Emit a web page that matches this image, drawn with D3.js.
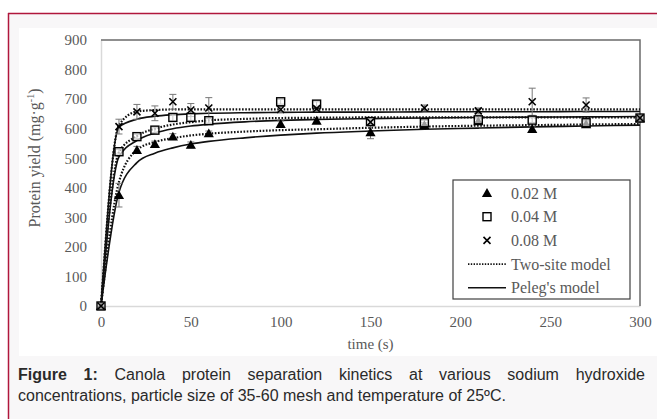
<!DOCTYPE html>
<html><head><meta charset="utf-8">
<script src="https://cdn.jsdelivr.net/npm/d3@7"></script>
<style>
body{margin:0;background:#fff;width:657px;height:419px;overflow:hidden;position:relative}
#cap{position:absolute;left:18px;top:364px;width:627px;font-family:"Liberation Sans",Arial,sans-serif;font-size:16px;line-height:21px;color:#2a2a2a;text-align:justify}
</style></head><body>
<svg id="c" width="657" height="419"></svg>
<div id="cap"><b>Figure 1:</b> Canola protein separation kinetics at various sodium hydroxide concentrations, particle size of 35-60 mesh and temperature of 25ºC.</div>
<script>
const times = [0,10,20,30,40,50,60,100,120,150,180,210,240,270,300];
const y002 = [0,375,528,548,573,545,584,616,627,588,612,625,599,615,635];
const y004 = [0,522,573,595,638,638,627,691,683,624,620,630,629,620,636];
const y008 = [0,607,657,652,691,663,670,665,668,622,670,660,691,680,636];
const e002 = [0,40,12,10,10,10,8,10,8,22,8,8,10,8,8];
const e004 = [0,8,8,8,12,10,8,8,8,10,8,8,8,8,8];
const e008 = [0,25,25,25,25,22,35,10,8,8,10,10,46,24,8];

const curveT = [0,10,20,30,40,50,60,80,100,120,150,180,210,240,270,300];
const two008 = [0,612,658,663,665,665,665,665,665,665,665,665,665,665,665,665];
const peleg008 = [0,605,632,642,647,650,652,654,655,656,656,657,657,657,658,658];
const two004 = [0,520,575,600,614,622,628,633,636,637,638,638,638,638,638,638];
const peleg004 = [0,505,560,585,600,609,615,623,628,631,634,636,638,639,640,641];
const two002 = [0,420,528,555,568,577,583,590,595,598,603,607,610,612,614,616];
const peleg002 = [0,385,485,517,535,548,557,569,578,585,592,598,602,606,609,612];

const xTicks = [0,50,100,150,200,250,300];
const yTicks = [0,100,200,300,400,500,600,700,800,900];
const legendLabels = ["0.02 M","0.04 M","0.08 M","Two-site model","Peleg's model"];

const svg = d3.select("#c");
// figure frame
svg.append("rect").attr("x",8).attr("y",13).attr("width",649).attr("height",406).attr("fill","#f8f7f8");
svg.append("rect").attr("x",19).attr("y",28).attr("width",638).attr("height",328).attr("fill","#fff");
svg.append("line").attr("x1",8).attr("x2",657).attr("y1",13.5).attr("y2",13.5).attr("stroke","#b0173c").attr("stroke-width",1.5);
svg.append("line").attr("x1",8.5).attr("x2",8.5).attr("y1",13).attr("y2",419).attr("stroke","#b0173c").attr("stroke-width",1.5);

const L=101,R=640,T=40,B=306;
const x = d3.scaleLinear().domain([0,300]).range([L,R]);
const y = d3.scaleLinear().domain([0,900]).range([B,T]);
const serif = "'Liberation Serif','Times New Roman',serif";

// axes
const xa = svg.append("g").attr("transform",`translate(0,${B})`).call(d3.axisBottom(x).tickValues(xTicks).tickSize(0).tickPadding(10));
xa.select(".domain").attr("stroke","#d9d9d9").attr("stroke-width",1.5);
xa.selectAll("text").attr("font-family",serif).attr("font-size",15).attr("fill","#595959");
const ya = svg.append("g").attr("transform",`translate(${L},0)`).call(d3.axisLeft(y).tickValues(yTicks).tickSize(0).tickPadding(14));
ya.select(".domain").attr("stroke","#d9d9d9").attr("stroke-width",1.5);
ya.selectAll("text").attr("font-family",serif).attr("font-size",15).attr("fill","#595959");
// frame top/right
svg.append("path").attr("d",`M${L},${T}H${R}V${B}`).attr("fill","none").attr("stroke","#6b6b6b").attr("stroke-width",1.5);

svg.append("text").attr("x",(L+R)/2).attr("y",349).attr("text-anchor","middle")
  .attr("font-family",serif).attr("font-size",15).attr("fill","#595959").text("time (s)");
const yl = svg.append("text").attr("transform","translate(40,158) rotate(-90)").attr("text-anchor","middle")
  .attr("font-family",serif).attr("font-size",16).attr("fill","#595959");
yl.append("tspan").text("Protein yield (mg·g");
yl.append("tspan").attr("font-size",10).attr("dy",-6).text("-1");
yl.append("tspan").attr("dy",6).text(")");

// curves
const line = d3.line().x((d,i)=>x(curveT[i])).y(d=>y(d)).curve(d3.curveMonotoneX);
const g = svg.append("g");
[peleg002,peleg004,peleg008].forEach(s=>g.append("path").attr("d",line(s)).attr("fill","none").attr("stroke","#111").attr("stroke-width",1.6));
[two002,two004,two008].forEach(s=>g.append("path").attr("d",line(s)).attr("fill","none").attr("stroke","#111").attr("stroke-width",2.2).attr("stroke-dasharray","1.6,1.6"));

// error bars
function ebars(vals,errs){
  times.forEach((t,i)=>{
    if(!errs[i]) return;
    const cx=x(t), y1=y(vals[i]+errs[i]), y2=y(vals[i]-errs[i]);
    g.append("line").attr("x1",cx).attr("x2",cx).attr("y1",y1).attr("y2",y2).attr("stroke","#777").attr("stroke-width",1);
    [y1,y2].forEach(yy=>g.append("line").attr("x1",cx-3.5).attr("x2",cx+3.5).attr("y1",yy).attr("y2",yy).attr("stroke","#777").attr("stroke-width",1));
  });
}
ebars(y008,e008); ebars(y004,e004); ebars(y002,e002);

const tri = d3.symbol().type(d3.symbolTriangle).size(45);
function drawMarker(sel,type,cx,cy){
  if(type==="tri") sel.append("path").attr("d",tri()).attr("transform",`translate(${cx},${cy+1})`).attr("fill","#000");
  else if(type==="sq") sel.append("rect").attr("x",cx-4).attr("y",cy-4).attr("width",8).attr("height",8).attr("fill","#fff").attr("fill-opacity",0.6).attr("stroke","#000").attr("stroke-width",1.4);
  else { const s=3.5; sel.append("path").attr("d",`M${cx-s},${cy-s}L${cx+s},${cy+s}M${cx-s},${cy+s}L${cx+s},${cy-s}`).attr("stroke","#000").attr("stroke-width",1.6); }
}
times.forEach((t,i)=>drawMarker(g,"tri",x(t),y(y002[i])));
times.forEach((t,i)=>drawMarker(g,"sq",x(t),y(y004[i])));
times.forEach((t,i)=>drawMarker(g,"x",x(t),y(y008[i])));

// legend
const lg = svg.append("g");
lg.append("rect").attr("x",453).attr("y",180).attr("width",177).attr("height",119).attr("fill","#fff").attr("stroke","#404040").attr("stroke-width",1.2);
const ly0=193, ldy=23.7;
legendLabels.forEach((lab,i)=>{
  const yy=ly0+i*ldy;
  if(i<3) drawMarker(lg,["tri","sq","x"][i],487,yy);
  else if(i===3) lg.append("line").attr("x1",468).attr("x2",506).attr("y1",yy).attr("y2",yy).attr("stroke","#111").attr("stroke-width",1.6).attr("stroke-dasharray","1.4,1.4");
  else lg.append("line").attr("x1",468).attr("x2",506).attr("y1",yy).attr("y2",yy).attr("stroke","#111").attr("stroke-width",1.5);
  lg.append("text").attr("x",511).attr("y",yy).attr("dy","0.35em").attr("font-family",serif).attr("font-size",16).attr("fill","#595959").text(lab);
});
</script></body></html>
